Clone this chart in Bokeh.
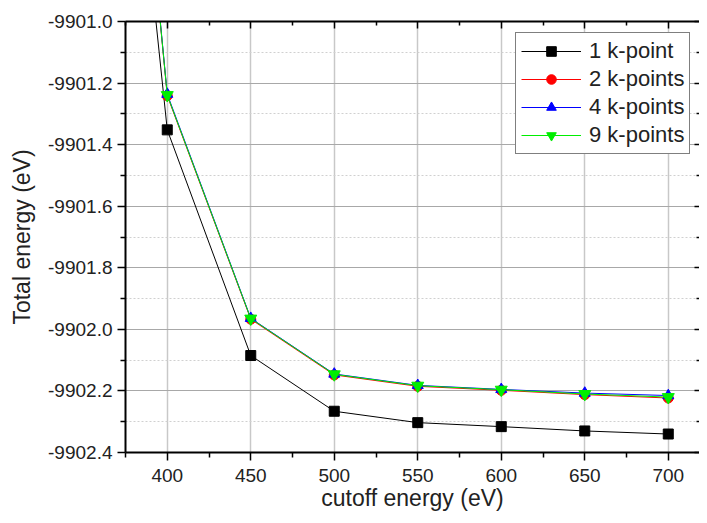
from bokeh.plotting import figure
from bokeh.models import (Range1d, FixedTicker, LinearAxis, PrintfTickFormatter,
                          CustomJSTickFormatter, Legend, LegendItem)
from bokeh.embed import file_html
from bokeh.resources import INLINE

cutoff = [350, 400, 450, 500, 550, 600, 650, 700]
e_1k = [-9898.75, -9901.352, -9902.085, -9902.266, -9902.303, -9902.316, -9902.330, -9902.340]
e_2k = [-9898.40, -9901.241, -9901.967, -9902.148, -9902.185, -9902.198, -9902.212, -9902.223]
e_4k = [-9898.40, -9901.236, -9901.964, -9902.145, -9902.182, -9902.195, -9902.207, -9902.215]
e_9k = [-9898.40, -9901.239, -9901.965, -9902.146, -9902.183, -9902.196, -9902.210, -9902.220]

x_ticks = [400, 450, 500, 550, 600, 650, 700]
x_minor = [375, 425, 475, 525, 575, 625, 675]
y_ticks = [-9902.4, -9902.2, -9902.0, -9901.8, -9901.6, -9901.4, -9901.2, -9901.0]
y_minor = [-9902.3, -9902.1, -9901.9, -9901.7, -9901.5, -9901.3, -9901.1]

FONT = "Liberation Sans"

p = figure(width=699, height=515, output_backend="svg", toolbar_location=None,
           x_range=Range1d(375, 718.7), y_range=Range1d(-9902.4, -9901.0),
           x_axis_label="cutoff energy (eV)", y_axis_label="Total energy (eV)",
           min_border_left=125, min_border_top=21, min_border_bottom=63, min_border_right=0)
p.outline_line_color = None
p.background_fill_color = "white"

p.xaxis.ticker = FixedTicker(ticks=x_ticks, minor_ticks=x_minor)
p.yaxis.ticker = FixedTicker(ticks=y_ticks, minor_ticks=y_minor)
p.yaxis.formatter = PrintfTickFormatter(format="%.1f")

for ax in (p.xaxis[0], p.yaxis[0]):
    ax.axis_line_width = 2
    ax.axis_line_color = "black"
    ax.major_tick_line_width = 1.5
    ax.minor_tick_line_width = 1.5
    ax.major_tick_out = 8
    ax.major_tick_in = 0
    ax.minor_tick_out = 5
    ax.minor_tick_in = 0
    ax.major_label_text_font = FONT
    ax.major_label_text_font_size = "19px"
    ax.major_label_text_color = "#222222"
    ax.axis_label_text_font = FONT
    ax.axis_label_text_font_style = "normal"
    ax.axis_label_text_color = "#222222"
p.xaxis.axis_label_text_font_size = "23px"
p.yaxis.axis_label_text_font_size = "23px"
p.xaxis.major_label_standoff = 8
p.xaxis.axis_label_standoff = 0
p.yaxis.major_label_standoff = 5
p.yaxis.axis_label_standoff = 10

blank = CustomJSTickFormatter(code="return '';")
top = LinearAxis(ticker=FixedTicker(ticks=x_ticks, minor_ticks=x_minor), formatter=blank,
                 major_label_standoff=0, axis_line_width=2, major_tick_in=7, major_tick_out=0,
                 minor_tick_in=4, minor_tick_out=0, major_tick_line_width=1.5,
                 minor_tick_line_width=1.5)
p.add_layout(top, "above")
right = LinearAxis(ticker=FixedTicker(ticks=y_ticks, minor_ticks=y_minor), formatter=blank,
                   major_label_standoff=0, axis_line_color=None, major_tick_in=5,
                   major_tick_out=0, minor_tick_in=3, minor_tick_out=0,
                   major_tick_line_width=1.5, minor_tick_line_width=1.5)
p.add_layout(right, "right")

p.xgrid.grid_line_color = "#c8c8c8"
p.xgrid.grid_line_width = 1.5
p.ygrid.grid_line_color = "#a8a8a8"
p.ygrid.grid_line_width = 1.2
p.ygrid.minor_grid_line_color = "#d0d0d0"
p.ygrid.minor_grid_line_dash = "2 2"
p.ygrid.minor_grid_line_width = 1

series = [
    ("1 k-point", e_1k, "black", "square", 10),
    ("2 k-points", e_2k, "red", "circle", 10),
    ("4 k-points", e_4k, "blue", "triangle", 11),
    ("9 k-points", e_9k, "#00ee00", "inverted_triangle", 12),
]
items = []
for label, ys, color, marker, size in series:
    ln = p.line(cutoff, ys, line_color=color, line_width=1)
    sc = p.scatter(cutoff, ys, marker=marker, size=size, fill_color=color, line_color=color)
    items.append(LegendItem(label=label, renderers=[ln, sc]))

legend = Legend(items=items, location=(390, 298), border_line_color="black",
                border_line_width=1.2, label_text_font=FONT, label_text_font_size="22px",
                label_text_color="#222222", glyph_width=60, glyph_height=24,
                label_height=24, spacing=2, padding=5, label_standoff=8, margin=0,
                background_fill_alpha=1)
p.add_layout(legend, "center")

open("out.html", "w").write(file_html(p, INLINE))
